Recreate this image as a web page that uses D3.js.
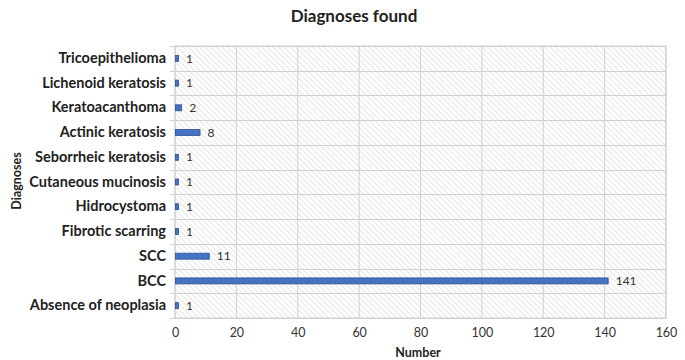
<!DOCTYPE html>
<html>
<head>
<meta charset="utf-8">
<script src="https://cdn.jsdelivr.net/npm/d3@7"></script>
<style>
  html, body { margin: 0; padding: 0; background: #ffffff; }
  svg { display: block; }
</style>
</head>
<body>
<svg id="chart" width="685" height="360"></svg>
<script>
// Diagnoses, listed top to bottom as drawn
const categories = [
  "Tricoepithelioma",
  "Lichenoid keratosis",
  "Keratoacanthoma",
  "Actinic keratosis",
  "Seborrheic keratosis",
  "Cutaneous mucinosis",
  "Hidrocystoma",
  "Fibrotic scarring",
  "SCC",
  "BCC",
  "Absence of neoplasia"
];
const counts = [1, 1, 2, 8, 1, 1, 1, 1, 11, 141, 1];
const xTicks = [0, 20, 40, 60, 80, 100, 120, 140, 160];

const FONT = "Lato, 'Open Sans', sans-serif";

const svg = d3.select("#chart");
const margin = { top: 46, right: 19, bottom: 42, left: 175 };
const W = 685, H = 360;
const innerW = W - margin.left - margin.right;
const innerH = H - margin.top - margin.bottom;

const x = d3.scaleLinear().domain([0, 160]).range([0, innerW]);
const y = d3.scaleBand().domain(categories).range([0, innerH]).paddingInner(0).paddingOuter(0);

// Diagonal hatch fill for the plot area
const defs = svg.append("defs");
const pat = defs.append("pattern")
  .attr("id", "hatch")
  .attr("patternUnits", "userSpaceOnUse")
  .attr("width", 4).attr("height", 4)
  .attr("patternTransform", "rotate(-45)");
pat.append("rect").attr("width", 4).attr("height", 4).attr("fill", "#ffffff");
pat.append("line").attr("x1", 0).attr("y1", 0).attr("x2", 0).attr("y2", 4)
  .attr("stroke", "#d4d4d4").attr("stroke-width", 1.2);

const g = svg.append("g").attr("transform", `translate(${margin.left},${margin.top})`);

g.append("rect").attr("width", innerW).attr("height", innerH).attr("fill", "url(#hatch)");

// Vertical gridlines
g.append("g").selectAll("line").data(xTicks).join("line")
  .attr("x1", d => x(d)).attr("x2", d => x(d))
  .attr("y1", 0).attr("y2", innerH)
  .attr("stroke", "#d0d0d0").attr("stroke-width", 1);

// Horizontal gridlines at band boundaries
const bounds = categories.map(c => y(c)).concat([innerH]);
g.append("g").selectAll("line").data(bounds).join("line")
  .attr("x1", -5).attr("x2", innerW)
  .attr("y1", d => Math.round(d) + 0.5).attr("y2", d => Math.round(d) + 0.5)
  .attr("stroke", "#d0d0d0").attr("stroke-width", 1);

// Plot border
g.append("rect").attr("width", innerW).attr("height", innerH)
  .attr("fill", "none").attr("stroke", "#d0d0d0").attr("stroke-width", 1);

// Bars
const barH = 6;
g.append("g").selectAll("rect").data(counts).join("rect")
  .attr("x", x(0) + 0.5)
  .attr("y", (d, i) => y(categories[i]) + y.bandwidth() / 2 - barH / 2)
  .attr("width", d => x(d) - x(0))
  .attr("height", barH)
  .attr("fill", "#4472c4")
  .attr("stroke", "#2f528f")
  .attr("stroke-width", 0.8);

// Value labels
g.append("g").selectAll("text").data(counts).join("text")
  .attr("x", d => x(d) + 8)
  .attr("y", (d, i) => y(categories[i]) + y.bandwidth() / 2)
  .attr("dy", "0.35em")
  .attr("font-family", FONT)
  .attr("font-size", 12)
  .attr("fill", "#333")
  .text(d => d);

// Category labels
const yAxis = d3.axisLeft(y).tickSize(0).tickPadding(9);
g.append("g").call(yAxis)
  .call(s => s.select(".domain").remove())
  .selectAll("text")
  .attr("font-family", FONT)
  .attr("font-weight", "bold")
  .attr("font-size", 14.5)
  .attr("fill", "#222");

// X axis tick labels
const xAxis = d3.axisBottom(x).tickValues(xTicks).tickSize(0).tickPadding(10);
g.append("g").attr("transform", `translate(0,${innerH})`).call(xAxis)
  .call(s => s.select(".domain").remove())
  .selectAll("text")
  .attr("font-family", FONT)
  .attr("font-size", 12.5)
  .attr("fill", "#333");

// Titles
svg.append("text")
  .attr("x", 354).attr("y", 22)
  .attr("text-anchor", "middle")
  .attr("font-family", FONT)
  .attr("font-weight", "bold")
  .attr("font-size", 17)
  .attr("fill", "#222")
  .text("Diagnoses found");

svg.append("text")
  .attr("x", 418).attr("y", 357)
  .attr("text-anchor", "middle")
  .attr("font-family", FONT)
  .attr("font-weight", "bold")
  .attr("font-size", 12.5)
  .attr("fill", "#222")
  .text("Number");

svg.append("text")
  .attr("transform", "translate(21,181) rotate(-90)")
  .attr("text-anchor", "middle")
  .attr("font-family", FONT)
  .attr("font-weight", "bold")
  .attr("font-size", 12.5)
  .attr("fill", "#222")
  .text("Diagnoses");
</script>
</body>
</html>
